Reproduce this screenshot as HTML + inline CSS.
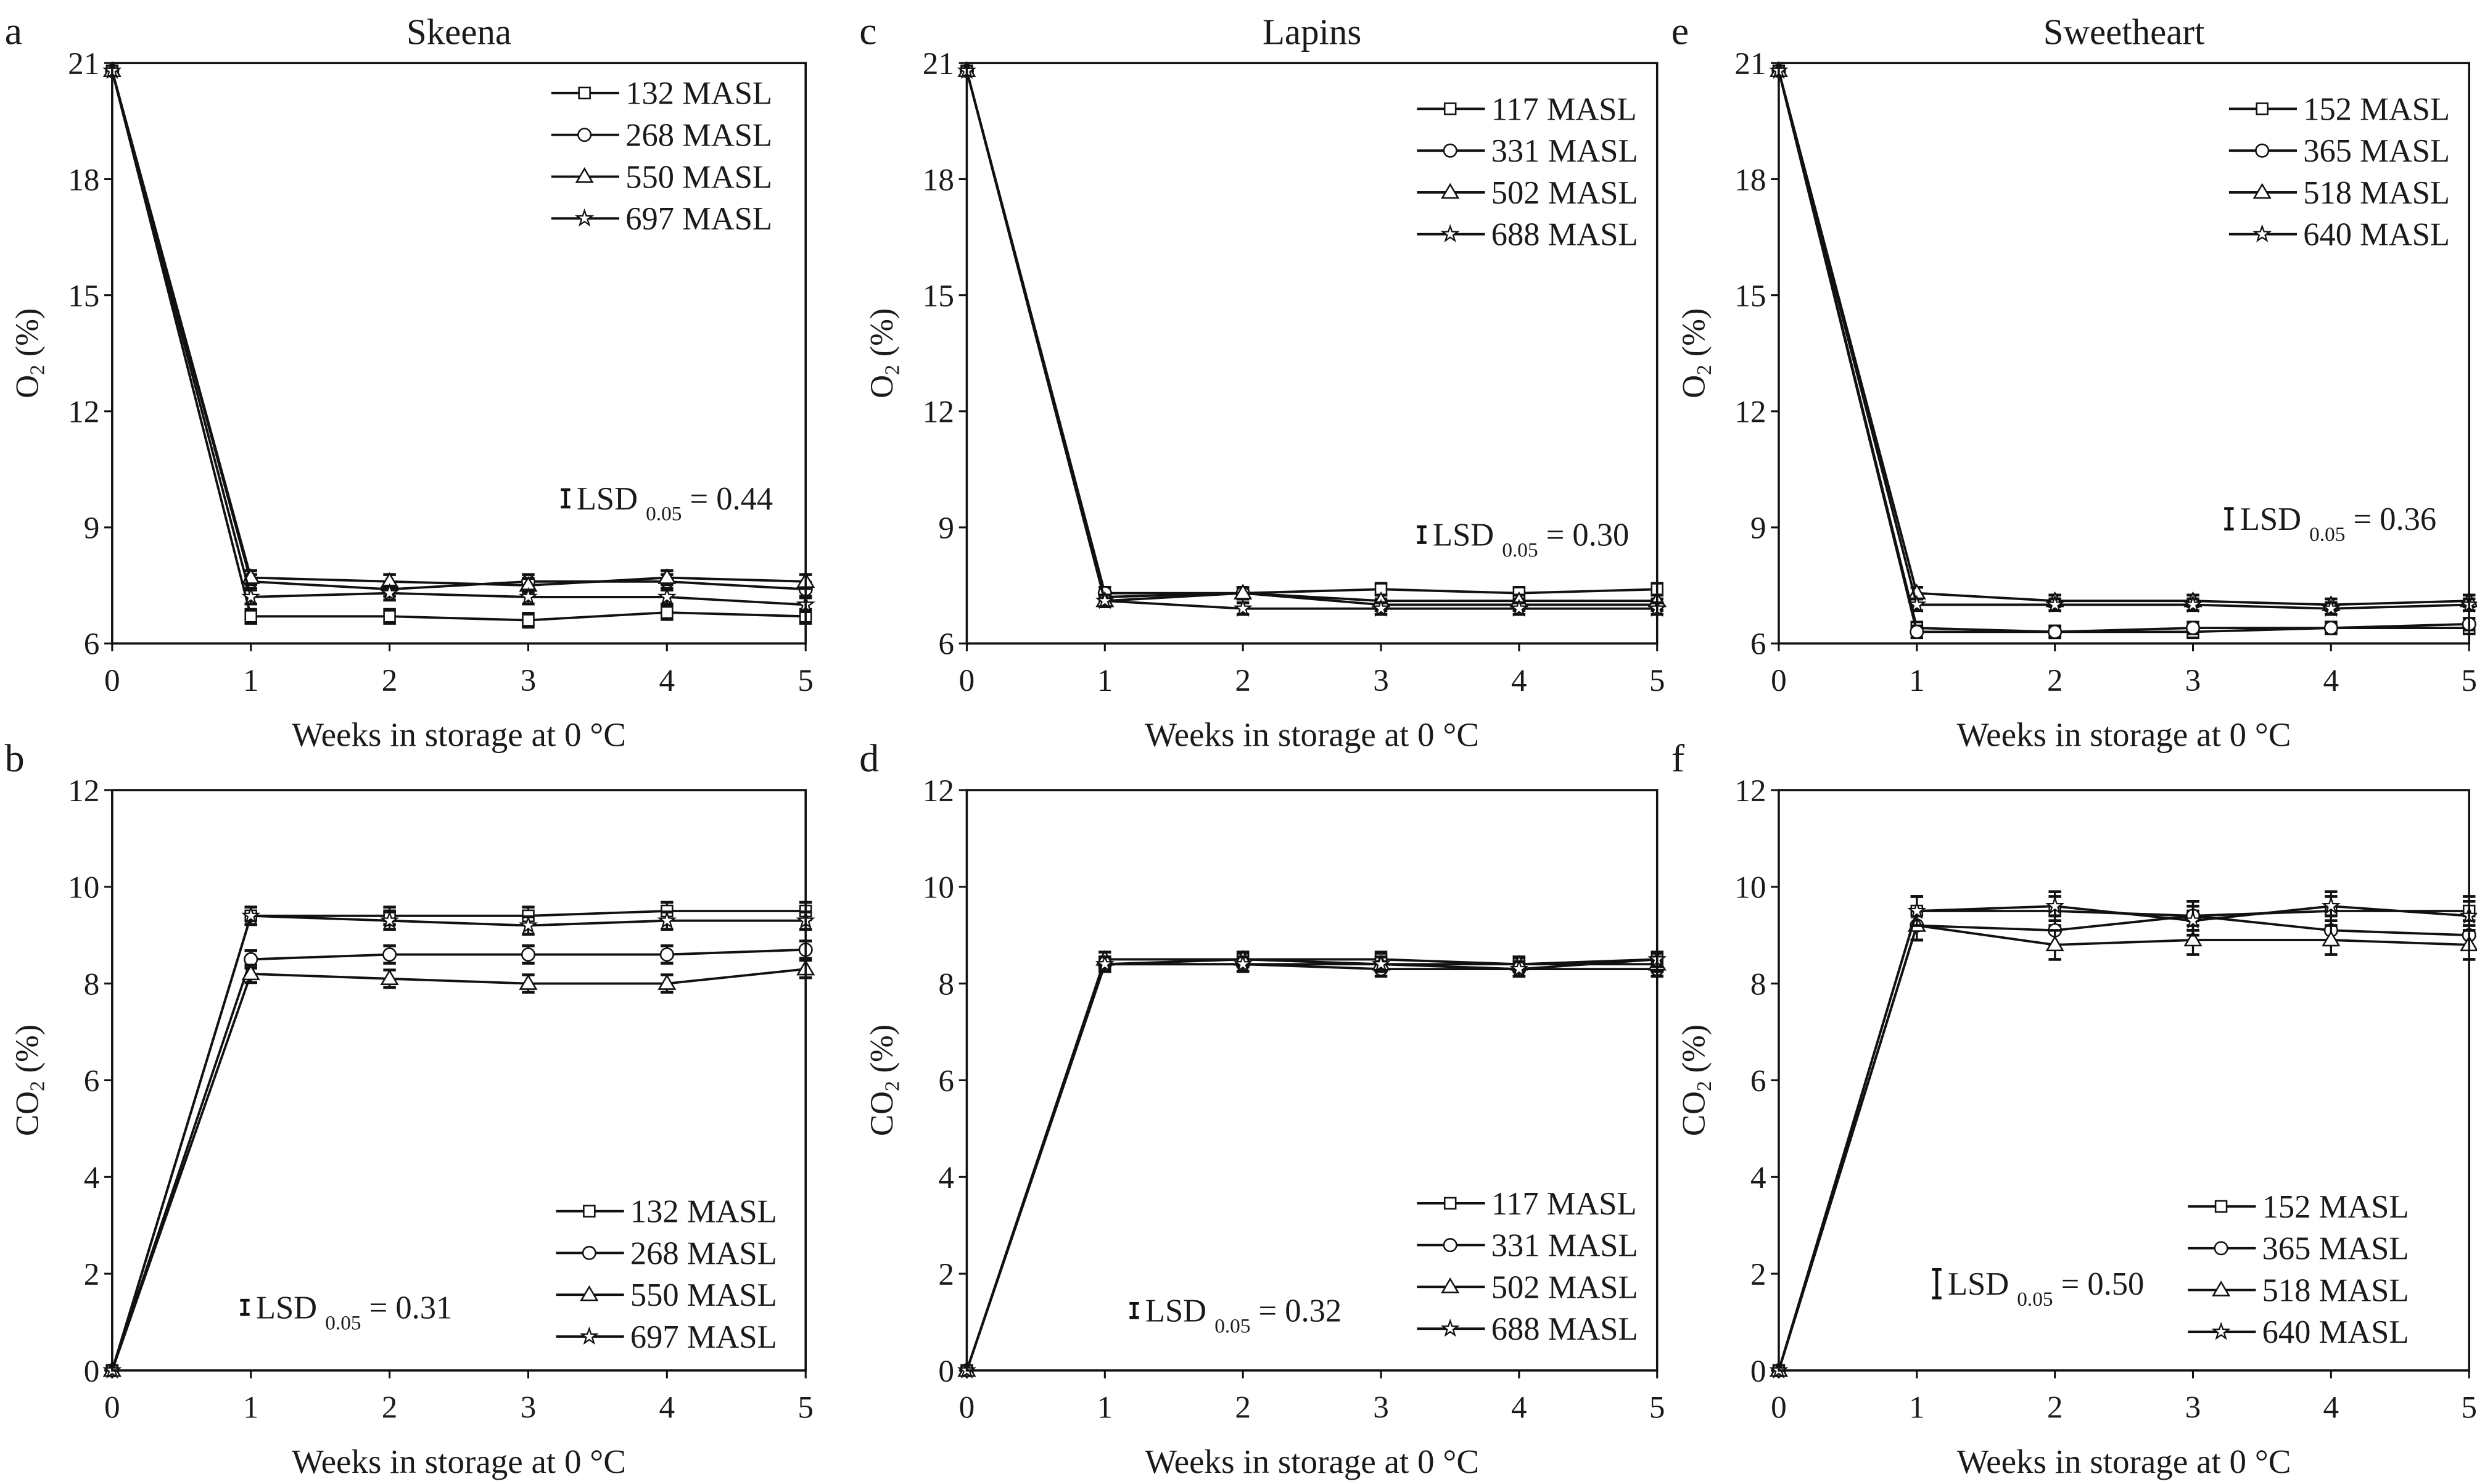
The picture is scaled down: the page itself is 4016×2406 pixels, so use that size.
<!DOCTYPE html>
<html><head><meta charset="utf-8"><style>
html,body{margin:0;padding:0;background:#fff;}
svg{display:block;}
text{font-family:"Liberation Serif","DejaVu Serif",serif;fill:#1a1a1a;}
</style></head><body>
<svg id="fig" width="4016" height="2406" viewBox="0 0 1568 941" preserveAspectRatio="none" xmlns="http://www.w3.org/2000/svg"></svg>
<script>
const weeks = [0,1,2,3,4,5];
// Skeena O2
const aNames = ["132 MASL","268 MASL","550 MASL","697 MASL"];
const a132 = [20.8,6.7,6.7,6.6,6.8,6.7];
const a268 = [20.8,7.6,7.4,7.6,7.6,7.4];
const a550 = [20.8,7.7,7.6,7.5,7.7,7.6];
const a697 = [20.8,7.2,7.3,7.2,7.2,7.0];
// Skeena CO2
const b132 = [0,9.4,9.4,9.4,9.5,9.5];
const b268 = [0,8.5,8.6,8.6,8.6,8.7];
const b550 = [0,8.2,8.1,8.0,8.0,8.3];
const b697 = [0,9.4,9.3,9.2,9.3,9.3];
// Lapins O2
const cNames = ["117 MASL","331 MASL","502 MASL","688 MASL"];
const c117 = [20.8,7.2,7.3,7.4,7.3,7.4];
const c331 = [20.8,7.3,7.3,7.0,7.0,7.0];
const c502 = [20.8,7.1,7.3,7.1,7.1,7.1];
const c688 = [20.8,7.1,6.9,6.9,6.9,6.9];
// Lapins CO2
const d117 = [0,8.4,8.5,8.5,8.4,8.5];
const d331 = [0,8.4,8.4,8.3,8.3,8.3];
const d502 = [0,8.5,8.5,8.4,8.4,8.4];
const d688 = [0,8.4,8.4,8.4,8.3,8.5];
// Sweetheart O2
const eNames = ["152 MASL","365 MASL","518 MASL","640 MASL"];
const e152 = [20.8,6.4,6.3,6.3,6.4,6.4];
const e365 = [20.8,6.3,6.3,6.4,6.4,6.5];
const e518 = [20.8,7.3,7.1,7.1,7.0,7.1];
const e640 = [20.8,7.0,7.0,7.0,6.9,7.0];
// Sweetheart CO2
const f152 = [0,9.5,9.5,9.4,9.5,9.5];
const f365 = [0,9.2,9.1,9.4,9.1,9.0];
const f518 = [0,9.2,8.8,8.9,8.9,8.8];
const f640 = [0,9.5,9.6,9.3,9.6,9.4];
const o2Ticks = [6,9,12,15,18,21];
const co2Ticks = [0,2,4,6,8,10,12];
const xTicks = [0,1,2,3,4,5];
const markers = ["square","circle","triangle","star"];

const NS="http://www.w3.org/2000/svg";
const svg=document.getElementById('fig');
function mk(tag,attrs,parent){const e=document.createElementNS(NS,tag);for(const k in attrs)e.setAttribute(k,attrs[k]);(parent||svg).appendChild(e);return e;}

function drawMarker(g,type,x,y){
  let m;
  if(type==="square") m=mk('rect',{x:x-3.5,y:y-3.5,width:7,height:7,fill:'#fff',stroke:'#111','stroke-width':1},g);
  else if(type==="circle") m=mk('circle',{cx:x,cy:y,r:4,fill:'#fff',stroke:'#111','stroke-width':1},g);
  else if(type==="triangle") m=mk('polygon',{points:`${x},${y-5} ${x-5},${y+3.5} ${x+5},${y+3.5}`,fill:'#fff',stroke:'#111','stroke-width':1},g);
  else { let p=[];for(let i=0;i<10;i++){const r=i%2?2:5;const a=-Math.PI/2+i*Math.PI/5;p.push((x+r*Math.cos(a)).toFixed(2)+','+(y+r*Math.sin(a)).toFixed(2));}
    m=mk('polygon',{points:p.join(' '),fill:'#fff',stroke:'#111','stroke-width':0.9},g);}
  return m;
}

function panel(o){
  const g=mk('g',{});
  
  
  const L=o.left,R=o.right,T=o.top,B=o.bottom;
  const sx=v=>L+(v-0)/(5-0)*(R-L);
  const sy=v=>B-(v-o.ymin)/(o.ymax-o.ymin)*(B-T);
  if(o.title){const t=mk('text',{x:(L+R)/2,y:T-12,'text-anchor':'middle','font-size':23},g);t.textContent=o.title;
    }
  const lt=mk('text',{x:o.letterX,y:T-12,'font-size':25},g);lt.textContent=o.letter;
  
  o.yticks.forEach(v=>{const y=sy(v);mk('line',{x1:L-5,x2:L,y1:y,y2:y,stroke:'#111','stroke-width':1.2},g);
    const t=mk('text',{x:L-8,y:y+7,'text-anchor':'end','font-size':20},g);t.textContent=v;
    });
  xTicks.forEach(v=>{const x=sx(v);mk('line',{x1:x,x2:x,y1:B,y2:B+5,stroke:'#111','stroke-width':1.2},g);
    const t=mk('text',{x:x,y:B+30,'text-anchor':'middle','font-size':20},g);t.textContent=v;
    });
  const xl=mk('text',{x:(L+R)/2,y:B+65,'text-anchor':'middle','font-size':21.5},g);xl.textContent="Weeks in storage at 0 \u00B0C";
  
  const yl=mk('text',{transform:`translate(${L-47},${(T+B)/2}) rotate(-90)`,'text-anchor':'middle','font-size':20.5},g);
  yl.innerHTML=o.ylab+'<tspan font-size="13" dy="4">2</tspan><tspan dy="-4"> (%)</tspan>';
  
  o.series.forEach((s,i)=>{
    const sg=mk('g',{},g);
    
    
    const pts=weeks.map((w,j)=>sx(w).toFixed(2)+','+sy(s[j]).toFixed(2)).join(' ');
    mk('polyline',{points:pts,fill:'none',stroke:'#111','stroke-width':1.5},sg);
    weeks.forEach((w,j)=>{const x=sx(w),y=sy(s[j]);
      if(j>0){const e=o.err;mk('line',{x1:x,x2:x,y1:sy(s[j]-e),y2:sy(s[j]+e),stroke:'#111','stroke-width':1.3},sg);
        [s[j]-e,s[j]+e].forEach(v=>mk('line',{x1:x-4,x2:x+4,y1:sy(v),y2:sy(v),stroke:'#111','stroke-width':1.8},sg));}
      const m=drawMarker(sg,markers[i],x,y);
      });
  });
  mk('rect',{x:L,y:T,width:R-L,height:B-T,fill:'none',stroke:'#111','stroke-width':1.4},g);
  const lg=mk('g',{},g);
  o.names.forEach((n,i)=>{const y=o.legY+i*26.5;
    const eg=mk('g',{},lg);
    mk('line',{x1:o.legX,x2:o.legX+43,y1:y,y2:y,stroke:'#111','stroke-width':1.5},eg);
    drawMarker(eg,markers[i],o.legX+21,y);
    const t=mk('text',{x:o.legX+47,y:y+7,'font-size':20.5},eg);t.textContent=n;});
  const lsd=mk('g',{},g);
  const h=o.lsdH;
  mk('line',{x1:o.lsdX,x2:o.lsdX,y1:o.lsdY-h/2,y2:o.lsdY+h/2,stroke:'#111','stroke-width':1.8},lsd);
  mk('line',{x1:o.lsdX-3,x2:o.lsdX+3,y1:o.lsdY-h/2,y2:o.lsdY-h/2,stroke:'#111','stroke-width':1.8},lsd);
  mk('line',{x1:o.lsdX-3,x2:o.lsdX+3,y1:o.lsdY+h/2,y2:o.lsdY+h/2,stroke:'#111','stroke-width':1.8},lsd);
  const lt2=mk('text',{x:o.lsdX+7,y:o.lsdY+7,'font-size':20.5},lsd);
  lt2.innerHTML='LSD <tspan font-size="13" dy="7">0.05</tspan><tspan dy="-7"> = '+o.lsd+'</tspan>';
}

panel({id:'a',letter:'a',title:'Skeena',left:71,right:510,top:40,bottom:408,letterX:3,ymin:6,ymax:21,yticks:o2Ticks,ylab:'O',
  series:[a132,a268,a550,a697],names:aNames,err:0.18,legX:349,legY:59,lsdX:358,lsdY:316,lsdH:11,lsd:'0.44'});
panel({id:'b',letter:'b',title:null,left:71,right:510,top:501,bottom:869,letterX:3,ymin:0,ymax:12,yticks:co2Ticks,ylab:'CO',
  series:[b132,b268,b550,b697],names:aNames,err:0.18,legX:352,legY:768,lsdX:155,lsdY:829,lsdH:9,lsd:'0.31'});
panel({id:'c',letter:'c',title:'Lapins',left:612,right:1049,top:40,bottom:408,letterX:544,ymin:6,ymax:21,yticks:o2Ticks,ylab:'O',
  series:[c117,c331,c502,c688],names:cNames,err:0.15,legX:897,legY:69,lsdX:900,lsdY:339,lsdH:10,lsd:'0.30'});
panel({id:'d',letter:'d',title:null,left:612,right:1049,top:501,bottom:869,letterX:544,ymin:0,ymax:12,yticks:co2Ticks,ylab:'CO',
  series:[d117,d331,d502,d688],names:cNames,err:0.15,legX:897,legY:763,lsdX:718,lsdY:831,lsdH:9,lsd:'0.32'});
panel({id:'e',letter:'e',title:'Sweetheart',left:1126,right:1563,top:40,bottom:408,letterX:1058,ymin:6,ymax:21,yticks:o2Ticks,ylab:'O',
  series:[e152,e365,e518,e640],names:eNames,err:0.15,legX:1411,legY:69,lsdX:1411,lsdY:329,lsdH:13,lsd:'0.36'});
panel({id:'f',letter:'f',title:null,left:1126,right:1563,top:501,bottom:869,letterX:1058,ymin:0,ymax:12,yticks:co2Ticks,ylab:'CO',
  series:[f152,f365,f518,f640],names:eNames,err:0.3,legX:1385,legY:765,lsdX:1226,lsdY:814,lsdH:18,lsd:'0.50'});
</script>
</body></html>
